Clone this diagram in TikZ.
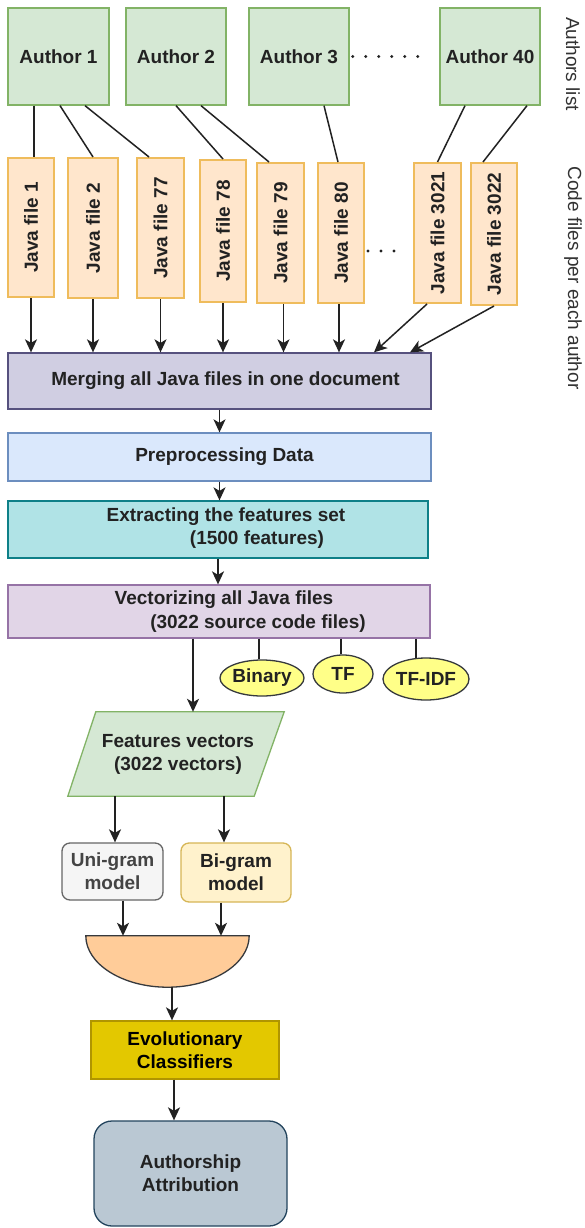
\documentclass[tikz,border=0pt]{standalone}
\usepackage{fontspec}
\usepackage{graphicx}
\setmainfont{Liberation Sans}
\usetikzlibrary{arrows.meta,calc,shapes.geometric}
\definecolor{txt}{HTML}{222222}
\definecolor{lc}{HTML}{222222}
\definecolor{authfill}{HTML}{D5E8D4}\definecolor{authdraw}{HTML}{82B366}
\definecolor{jffill}{HTML}{FFE6CC}\definecolor{jfdraw}{HTML}{EFBC5C}
\definecolor{mergefill}{HTML}{D0CEE2}\definecolor{mergedraw}{HTML}{56517E}
\definecolor{prefill}{HTML}{DAE8FC}\definecolor{predraw}{HTML}{6C8EBF}
\definecolor{extfill}{HTML}{B0E3E6}\definecolor{extdraw}{HTML}{0E8088}
\definecolor{vecfill}{HTML}{E1D5E7}\definecolor{vecdraw}{HTML}{9673A6}
\definecolor{ellfill}{HTML}{FFFF88}\definecolor{elldraw}{HTML}{36393D}
\definecolor{unifill}{HTML}{F5F5F5}\definecolor{unidraw}{HTML}{666666}\definecolor{unitext}{HTML}{444444}
\definecolor{bifill}{HTML}{FFF2CC}\definecolor{bidraw}{HTML}{D6B656}
\definecolor{joinfill}{HTML}{FFCC99}\definecolor{joindraw}{HTML}{36393D}
\definecolor{evofill}{HTML}{E3C800}\definecolor{evodraw}{HTML}{B09500}
\definecolor{attfill}{HTML}{BAC8D3}\definecolor{attdraw}{HTML}{23445D}
\definecolor{sidetxt}{HTML}{333333}
\begin{document}
\begin{tikzpicture}[x=1pt,y=-1pt,
  every node/.style={font=\fontsize{19}{23}\selectfont\bfseries, text=txt},
  bx/.style={draw, rectangle, inner sep=0pt, line width=1.3pt, align=center},
  jf/.style={bx, fill=jffill, draw=jfdraw, line width=2pt},
  ell/.style={ellipse, draw=elldraw, fill=ellfill, line width=1.3pt, inner sep=0pt},
  conn/.style={draw=lc, line width=1.5pt},
  arr/.style={conn, -{Stealth[length=13pt,width=12pt,inset=3.5pt]}},
  dotsline/.style={draw=lc, line width=3.2pt, line cap=round},
  sidelbl/.style={font=\fontsize{19}{22}\selectfont, text=sidetxt, rotate=-90, inner sep=0pt}
]
\useasboundingbox (0,0) rectangle (585,1228);
\fill[white] (0,0) rectangle (585,1228);

% authors
\node[bx, fill=authfill, draw=authdraw, minimum width=101pt, minimum height=97pt] (a1) at (58.5,56.5) {Author 1};
\node[bx, fill=authfill, draw=authdraw, minimum width=100pt, minimum height=97pt] (a2) at (176,56.5) {Author 2};
\node[bx, fill=authfill, draw=authdraw, minimum width=100pt, minimum height=97pt] (a3) at (299,56.5) {Author 3};
\node[bx, fill=authfill, draw=authdraw, minimum width=100pt, minimum height=97pt] (a40) at (490,56.5) {Author 40};
\draw[dotsline, dash pattern=on 0pt off 13pt] ([xshift=3pt]a3.east) -- ([xshift=-10pt]a40.west);

% java files
\node[jf, minimum width=46pt, minimum height=139pt] (jf1) at (31,227.5) {\rotatebox{90}{Java file 1}};
\node[jf, minimum width=50pt, minimum height=140pt] (jf2) at (93,228) {\rotatebox{90}{Java file 2}};
\node[jf, minimum width=47pt, minimum height=140pt] (jf77) at (160.5,228) {\rotatebox{90}{Java file 77}};
\node[jf, minimum width=46pt, minimum height=142pt] (jf78) at (223,231) {\rotatebox{90}{Java file 78}};
\node[jf, minimum width=47pt, minimum height=140pt] (jf79) at (280.5,233) {\rotatebox{90}{Java file 79}};
\node[jf, minimum width=46pt, minimum height=140pt] (jf80) at (341,233) {\rotatebox{90}{Java file 80}};
\node[jf, minimum width=47pt, minimum height=140pt] (jf3021) at (437.5,233) {\rotatebox{90}{Java file 3021}};
\node[jf, minimum width=46pt, minimum height=142pt] (jf3022) at (494,234) {\rotatebox{90}{Java file 3022}};
\draw[dotsline, dash pattern=on 0pt off 13pt] ([xshift=3pt,yshift=-18pt]jf80.east) -- ([xshift=-8pt,yshift=-18pt]jf3021.west);

% author -> file lines
\draw[conn] ([xshift=-24.5pt]a1.south) -- ([xshift=3pt]jf1.north);
\draw[conn] ([xshift=1.5pt]a1.south) -- (jf2.north);
\draw[conn] ([xshift=26.5pt]a1.south) -- ([xshift=-11.5pt]jf77.north);
\draw[conn] (a2.south) -- (jf78.north);
\draw[conn] ([xshift=25pt]a2.south) -- ([xshift=-11.5pt]jf79.north);
\draw[conn] ([xshift=25pt]a3.south) -- ([xshift=-3pt]jf80.north);
\draw[conn] ([xshift=-25pt]a40.south) -- (jf3021.north);
\draw[conn] ([xshift=37pt]a40.south) -- ([xshift=-11pt]jf3022.north);

% merge and pipeline boxes
\node[bx, fill=mergefill, draw=mergedraw, minimum width=423pt, minimum height=56pt] (merge) at (219.5,381) {\hspace*{12pt}Merging all Java files in one document};
\node[bx, fill=prefill, draw=predraw, minimum width=423pt, minimum height=48pt] (preproc) at (219.5,457) {\hspace*{10pt}Preprocessing Data};
\node[bx, fill=extfill, draw=extdraw, minimum width=420pt, minimum height=57pt] (ext) at (218,529.5) {};
\node (ext1) at (226,517) {Extracting the features set};
\node (ext2) at (257,540) {(1500 features)};
\node[bx, fill=vecfill, draw=vecdraw, minimum width=422pt, minimum height=53pt] (vect) at (219,611.5) {};
\node (vect1) at (224,600) {Vectorizing all Java files};
\node (vect2) at (258,624) {(3022 source code files)};

% file -> merge arrows
\draw[arr] (jf1.south) -- (jf1.south |- merge.north);
\draw[arr] (jf2.south) -- (jf2.south |- merge.north);
\draw[arr] (jf77.south) -- (jf77.south |- merge.north);
\draw[arr] (jf78.south) -- (jf78.south |- merge.north);
\draw[arr] ([xshift=3pt]jf79.south) -- ([xshift=3pt]jf79.south |- merge.north);
\draw[arr] ([xshift=-2pt]jf80.south) -- ([xshift=-2pt]jf80.south |- merge.north);
\draw[arr] ([xshift=-10.5pt]jf3021.south) -- ([xshift=154.5pt]merge.north);
\draw[arr] (jf3022.south) -- ([xshift=190.5pt]merge.north);

\draw[arr] (merge.south) -- (preproc.north);
\draw[arr] (preproc.south) -- (preproc.south |- ext.north);
\draw[arr] (ext.south) -- (ext.south |- vect.north);

% ellipses
\node[ell, minimum width=84pt, minimum height=36pt] (bin) at (262,678) {Binary};
\node[ell, minimum width=60pt, minimum height=38pt] (tf) at (343,674) {TF};
\node[ell, minimum width=86pt, minimum height=42pt] (tfidf) at (426,679) {TF-IDF};
\draw[conn] ([xshift=-3pt]bin.north |- vect.south) -- ([xshift=-3pt]bin.north);
\draw[conn] ([xshift=-2pt]tf.north |- vect.south) -- ([xshift=-2pt]tf.north);
\draw[conn] ([xshift=-10pt]tfidf.north |- vect.south) -- ([xshift=-10pt,yshift=-0.6pt]tfidf.north);

% features vectors
\path node[minimum width=216pt, minimum height=84pt, inner sep=0pt] (fv) at (176,754) {};
\draw[fill=authfill, draw=authdraw, line width=1.3pt] ([xshift=28pt]fv.north west) -- (fv.north east) -- ([xshift=-30pt]fv.south east) -- (fv.south west) -- cycle;
\node[align=center] (fvtext) at (178,754) {Features vectors\\(3022 vectors)};
\draw[arr] ([xshift=-26pt]vect.south) -- ([xshift=-26pt]vect.south |- fv.north);

% n-gram models
\node[bx, rounded corners=8pt, fill=unifill, draw=unidraw, text=unitext, minimum width=101pt, minimum height=57pt] (uni) at (112.5,871.5) {Uni-gram\\model};
\node[bx, rounded corners=8pt, fill=bifill, draw=bidraw, minimum width=110pt, minimum height=59pt] (bi) at (236,872.5) {Bi-gram\\model};
\draw[arr] ([xshift=2.5pt]uni.north |- fv.south) -- ([xshift=2.5pt]uni.north);
\draw[arr] ([xshift=-12pt]bi.north |- fv.south) -- ([xshift=-12pt]bi.north);

% join shape
\path node[minimum width=163pt, minimum height=51pt, inner sep=0pt] (join) at (167.5,961.5) {};
\draw[fill=joinfill, draw=joindraw, line width=1.3pt] (join.north east)
  .. controls ($(join.north east)+(0,28.2)$) and ($(join.south)+(45,0)$) .. (join.south)
  .. controls ($(join.south)+(-45,0)$) and ($(join.north west)+(0,28.2)$) .. (join.north west) -- cycle;
\draw[arr] ([xshift=10.5pt]uni.south) -- ([xshift=10.5pt]uni.south |- join.north);
\draw[arr] ([xshift=-15pt]bi.south) -- ([xshift=-15pt]bi.south |- join.north);

% classifiers and attribution
\node[bx, fill=evofill, draw=evodraw, text=black, minimum width=188pt, minimum height=58pt] (evol) at (185,1050) {Evolutionary\\Classifiers};
\node[bx, rounded corners=18pt, fill=attfill, draw=attdraw, minimum width=193pt, minimum height=105pt] (att) at (190.5,1173.5) {Authorship\\Attribution};
\draw[arr] ([xshift=4.5pt]join.south) -- ([xshift=4.5pt]join.south |- evol.north);
\draw[arr] ([xshift=-11pt]evol.south) -- ([xshift=-11pt]evol.south |- att.north);

% side labels
\node[sidelbl] (lab1) at (573,64) {Authors list};
\node[sidelbl] (lab2) at (573,278) {Code files per each author};
\end{tikzpicture}
\end{document}
